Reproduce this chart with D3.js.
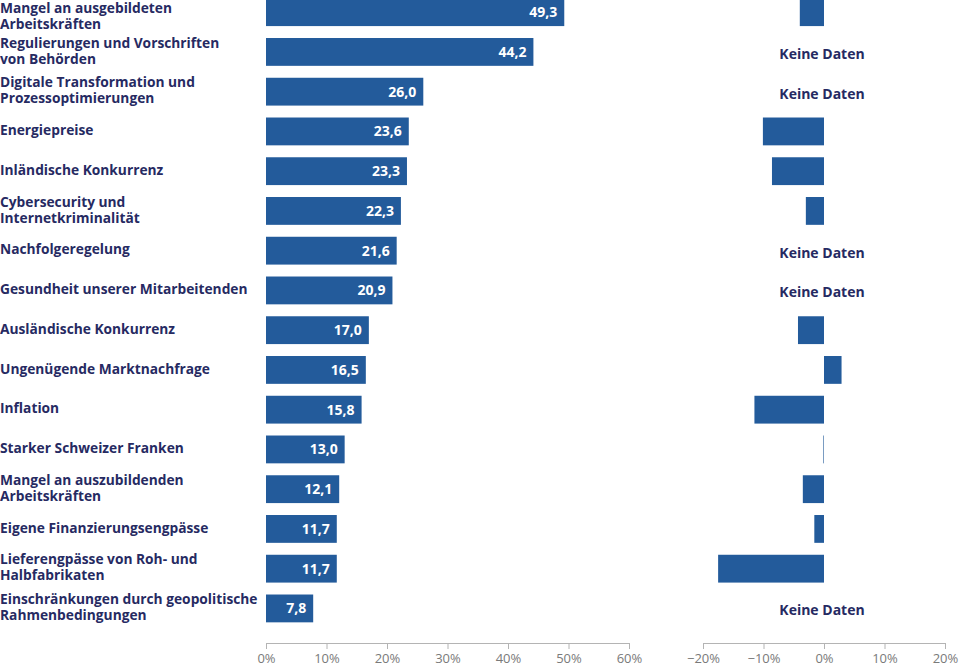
<!DOCTYPE html>
<html><head><meta charset="utf-8">
<script src="https://cdn.jsdelivr.net/npm/d3@7/dist/d3.min.js"></script>
<style>
body{margin:0;background:#fff;}
svg{display:block;}
</style></head>
<body>
<svg id="chart" width="960" height="666"></svg>
<script>
const categories = [
  "Mangel an ausgebildeten\nArbeitskräften",
  "Regulierungen und Vorschriften\nvon Behörden",
  "Digitale Transformation und\nProzessoptimierungen",
  "Energiepreise",
  "Inländische Konkurrenz",
  "Cybersecurity und\nInternetkriminalität",
  "Nachfolgeregelung",
  "Gesundheit unserer Mitarbeitenden",
  "Ausländische Konkurrenz",
  "Ungenügende Marktnachfrage",
  "Inflation",
  "Starker Schweizer Franken",
  "Mangel an auszubildenden\nArbeitskräften",
  "Eigene Finanzierungsengpässe",
  "Lieferengpässe von Roh- und\nHalbfabrikaten",
  "Einschränkungen durch geopolitische\nRahmenbedingungen"
];
const shareValues = [49.3, 44.2, 26.0, 23.6, 23.3, 22.3, 21.6, 20.9, 17.0, 16.5, 15.8, 13.0, 12.1, 11.7, 11.7, 7.8];
const changeValues = [-4.0, null, null, -10.1, -8.6, -3.0, null, null, -4.3, 2.9, -11.5, -0.1, -3.5, -1.6, -17.5, null];
const leftTicks = [0, 10, 20, 30, 40, 50, 60];
const rightTicks = [-20, -10, 0, 10, 20];
const noDataText = "Keine Daten";

const barColor = "#235b9b";
const textColor = "#262a62";
const axisColor = "#b4b4b4";
const tickTextColor = "#7a7a7a";
const font = "'Open Sans', 'Noto Sans', sans-serif";

const svg = d3.select("#chart");
const idx = d3.range(categories.length);

const y = d3.scaleBand().domain(idx).range([-7.7, 628.3]).paddingInner(0.3).paddingOuter(0.15);
const xL = d3.scaleLinear().domain([0, 60]).range([266, 629]);
const xR = d3.scaleLinear().domain([-20, 20]).range([703, 945]);
const axisY = 643;

// Category labels
const lab = svg.append("g").attr("font-family", font).attr("font-weight", 700)
  .attr("font-size", 13.75).attr("fill", textColor);
idx.forEach(i => {
  const lines = categories[i].split("\n");
  const cy = y(i) + y.bandwidth() / 2;
  const t = lab.append("text").attr("x", 0);
  const lh = 16;
  const start = Math.max(8.5, cy - (lines.length - 1) * lh / 2 - 1);
  lines.forEach((ln, k) => {
    t.append("tspan").attr("x", 0).attr("y", start + k * lh).attr("dy", "0.35em").text(ln);
  });
});

// Left bars
svg.append("g").selectAll("rect").data(idx).join("rect")
  .attr("x", xL(0)).attr("y", i => y(i))
  .attr("width", i => xL(shareValues[i]) - xL(0))
  .attr("height", y.bandwidth()).attr("fill", barColor);

svg.append("g").attr("font-family", font).attr("font-weight", 700).attr("font-size", 14)
  .attr("fill", "#fff").attr("text-anchor", "end")
  .selectAll("text").data(idx).join("text")
  .attr("x", i => xL(shareValues[i]) - 7)
  .attr("y", i => y(i) + y.bandwidth() / 2).attr("dy", "0.35em")
  .text(i => d3.format(".1f")(shareValues[i]).replace(".", ","));

// Right bars
const rightIdx = idx.filter(i => changeValues[i] !== null);
svg.append("g").selectAll("rect").data(rightIdx).join("rect")
  .attr("x", i => Math.min(xR(0), xR(changeValues[i])))
  .attr("y", i => y(i))
  .attr("width", i => Math.abs(xR(changeValues[i]) - xR(0)))
  .attr("height", y.bandwidth()).attr("fill", barColor);

svg.append("g").attr("font-family", font).attr("font-weight", 700).attr("font-size", 14)
  .attr("fill", textColor).attr("text-anchor", "middle")
  .selectAll("text").data(idx.filter(i => changeValues[i] === null)).join("text")
  .attr("x", xR(0) - 2)
  .attr("y", i => y(i) + y.bandwidth() / 2 + 2).attr("dy", "0.35em")
  .text(noDataText);

// Axes
function drawAxis(scale, ticks, fmt) {
  const g = svg.append("g").attr("transform", `translate(0,${axisY})`)
    .call(d3.axisBottom(scale).tickValues(ticks).tickSize(6).tickSizeOuter(0).tickPadding(5).tickFormat(fmt));
  g.select(".domain").attr("stroke", axisColor);
  g.selectAll(".tick line").attr("stroke", axisColor);
  g.selectAll(".tick text").attr("fill", tickTextColor).attr("font-family", font)
    .attr("font-size", 13).attr("font-weight", 400);
}
drawAxis(xL, leftTicks, d => d + "%");
drawAxis(xR, rightTicks, d => (d < 0 ? "\u2212" + Math.abs(d) : d) + "%");
</script>
</body></html>
